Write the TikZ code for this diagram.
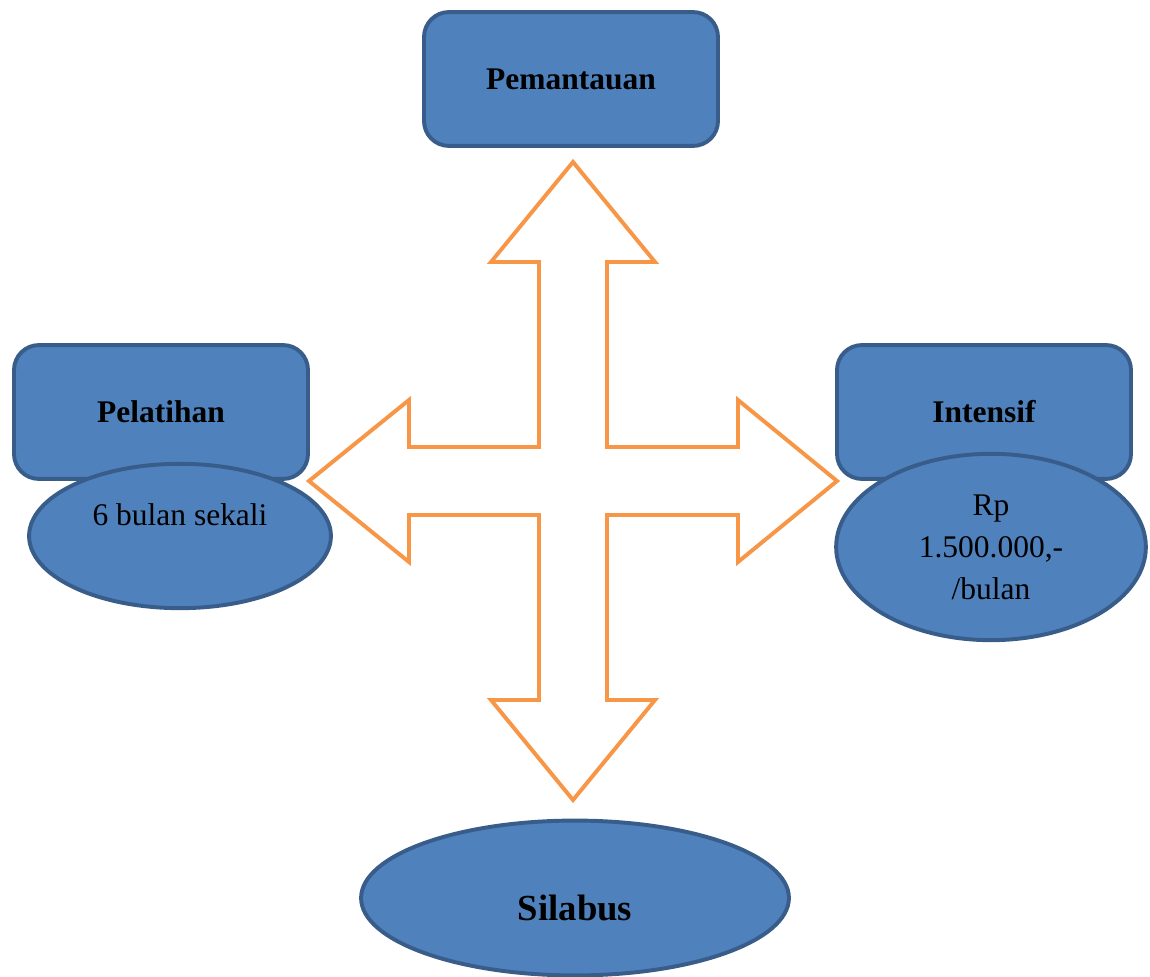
\documentclass[tikz,border=0pt]{standalone}
\usepackage{fontspec}
\setmainfont{Liberation Serif}
\usetikzlibrary{shapes.geometric}

\definecolor{boxblue}{HTML}{4F81BD}
\definecolor{boxline}{HTML}{385D8A}
\definecolor{arroworange}{HTML}{F79646}

\tikzset{
    box/.style={draw=boxline, fill=boxblue, line width=1.5pt, rounded corners=9.5pt,
        minimum width=112pt, minimum height=51pt, inner sep=0pt,
        font=\fontsize{12}{14}\selectfont\bfseries},
    blob/.style={ellipse, draw=boxline, fill=boxblue, line width=1.5pt, inner sep=0pt,
        align=center, font=\fontsize{12}{16}\selectfont},
    bigarrow/.style={draw=arroworange, fill=white, line width=1.5pt}
}

\begin{document}
\begin{tikzpicture}[x=0.381pt, y=-0.381pt]

    % --- Page frame (pixel grid, origin top left) ---
    \useasboundingbox (0,0) rectangle (1150,977);

    % --- Top box ---
    \node[box] (pemantauan) at (571, 79) {Pemantauan};

    % --- Left box with its ellipse ---
    \node[box] (pelatihan) at (161, 412) {Pelatihan};
    \node[blob, minimum width=115pt, minimum height=55pt,
          text height=8pt, text depth=16pt] (sekali) at (180, 536) {6 bulan sekali};

    % --- Right box with its ellipse ---
    \node[box] (intensif) at (984, 412) {Intensif};
    \node[blob, minimum width=118pt, minimum height=71pt] (biaya) at (991, 547)
        {Rp\\1.500.000,-\\/bulan};

    % --- Four-way arrow in the middle ---
    % centre at (573,481), shaft half width 34, head half width 82
    \coordinate (tipN) at (573, 162);
    \coordinate (tipE) at (837, 481);
    \coordinate (tipS) at (573, 800);
    \coordinate (tipW) at (309, 481);
    \draw[bigarrow] (tipN) -- (655, 262) -- (607, 262) -- (607, 447)
        -- (738, 447) -- (738, 400) -- (tipE) -- (738, 562) -- (738, 515)
        -- (607, 515) -- (607, 700) -- (655, 700) -- (tipS) -- (491, 700)
        -- (539, 700) -- (539, 515) -- (409, 515) -- (409, 562) -- (tipW)
        -- (409, 400) -- (409, 447) -- (539, 447) -- (539, 262) -- (491, 262)
        -- cycle;

    % --- Bottom ellipse ---
    \node[blob, minimum width=163pt, minimum height=59pt,
          text height=17pt, text depth=0pt,
          font=\fontsize{14}{16}\selectfont\bfseries] (silabus) at (575, 898) {Silabus};

\end{tikzpicture}
\end{document}
